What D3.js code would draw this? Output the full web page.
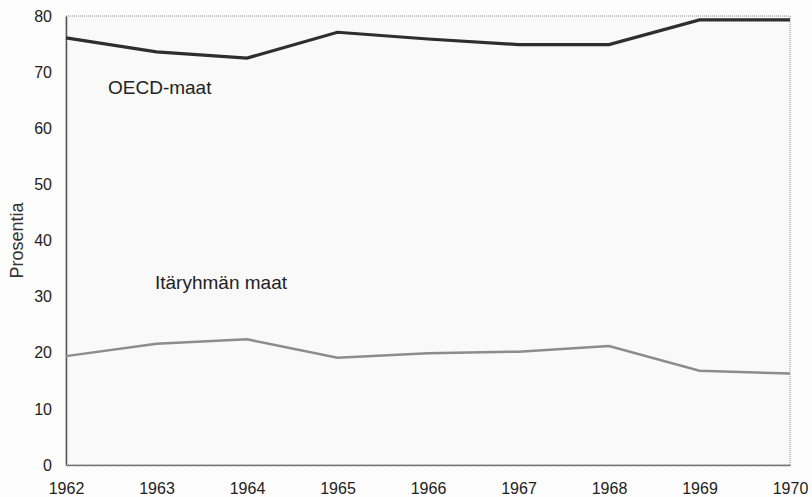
<!DOCTYPE html>
<html>
<head>
<meta charset="utf-8">
<script src="https://cdn.jsdelivr.net/npm/d3@7"></script>
<style>
  body { margin: 0; background: #fdfdfd; }
  svg text { font-family: "Liberation Sans", Arial, sans-serif; }
</style>
</head>
<body>
<script>
// data
var years = [1962, 1963, 1964, 1965, 1966, 1967, 1968, 1969, 1970];
var oecd = [76.1, 73.6, 72.5, 77.1, 75.9, 74.9, 74.9, 79.3, 79.3];
var itaryhma = [19.4, 21.6, 22.4, 19.1, 19.9, 20.2, 21.2, 16.8, 16.3];
var yTicks = [0, 10, 20, 30, 40, 50, 60, 70, 80];

var width = 812, height = 497;
var margin = { top: 16, right: 22, bottom: 32, left: 66 };
var innerW = width - margin.left - margin.right,
    innerH = height - margin.top - margin.bottom;

var svg = d3.select("body").append("svg")
    .attr("width", width)
    .attr("height", height);

var g = svg.append("g")
    .attr("transform", "translate(" + margin.left + "," + margin.top + ")");

var x = d3.scaleLinear().domain([1962, 1970]).range([0, innerW]);
var y = d3.scaleLinear().domain([0, 80]).range([innerH, 0]);

// plot frame
g.append("rect")
    .attr("width", innerW)
    .attr("height", innerH)
    .attr("fill", "#f9f9f9")
    .attr("stroke", "#8a8a8a")
    .attr("stroke-width", 1)
    .attr("stroke-dasharray", "1,1");

// y axis
var yAxis = g.append("g")
    .call(d3.axisLeft(y).tickValues(yTicks).tickSize(0).tickPadding(14));
yAxis.select(".domain").attr("stroke", "#555").attr("stroke-width", 1.5);
yAxis.selectAll("text").style("font-size", "16px").attr("fill", "#222");

// x axis
var xAxis = g.append("g")
    .attr("transform", "translate(0," + innerH + ")")
    .call(d3.axisBottom(x).tickValues(years).tickFormat(d3.format("d")).tickSize(0).tickPadding(18));
xAxis.select(".domain").attr("stroke", "#777").attr("stroke-width", 1.5);
xAxis.selectAll("text").style("font-size", "16px").attr("fill", "#222");

// y label
svg.append("text")
    .attr("transform", "translate(23," + (margin.top + innerH / 2) + ") rotate(-90)")
    .attr("text-anchor", "middle")
    .style("font-size", "18px")
    .attr("fill", "#333")
    .text("Prosentia");

var line = d3.line()
    .x(function(d, i) { return x(years[i]); })
    .y(function(d) { return y(d); });

g.append("path")
    .datum(itaryhma)
    .attr("fill", "none")
    .attr("stroke", "#8c8c8c")
    .attr("stroke-width", 2.5)
    .attr("d", line);

g.append("path")
    .datum(oecd)
    .attr("fill", "none")
    .attr("stroke", "#2e2e2e")
    .attr("stroke-width", 3.2)
    .attr("d", line);

// series labels
svg.append("text")
    .attr("x", 108).attr("y", 94)
    .style("font-size", "19px")
    .attr("fill", "#222")
    .text("OECD-maat");

svg.append("text")
    .attr("x", 155).attr("y", 289)
    .style("font-size", "19px")
    .attr("fill", "#222")
    .text("Itäryhmän maat");
</script>
</body>
</html>
